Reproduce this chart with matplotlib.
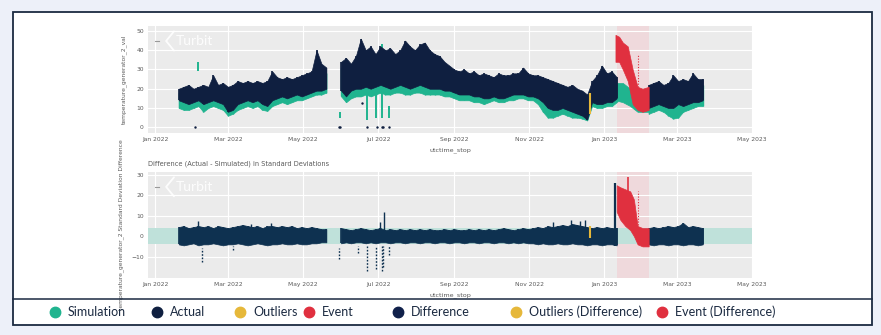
import matplotlib
matplotlib.use("Agg")
import matplotlib.pyplot as plt
import matplotlib.dates as mdates
import numpy as np
import pandas as pd
from matplotlib.lines import Line2D
from matplotlib.patches import Rectangle

# ---------------- data ----------------
# sampling: regular 4-day steps inside each uninterrupted stretch of data
seg_starts = ["2022-01-20", "2022-06-01", "2023-02-06"]
seg_lengths = [31, 57, 12]
step_days = 4

act_high_1 = [20, 21, 22, 20, 21, 22, 21, 27, 22, 23, 21, 22, 24, 23, 24, 23, 24, 23, 24, 29,
              26, 25, 26, 25, 26, 27, 28, 29, 40, 33, 31]
act_low_1 = [14, 13, 12, 13, 14, 12, 13, 14, 13, 12, 8, 9, 12, 13, 14, 13, 14, 12, 11, 14,
             15, 16, 15, 16, 17, 16, 17, 18, 19, 19, 20]
sim_high_1 = [18, 19, 20, 18, 19, 20, 19, 24, 20, 21, 19, 20, 22, 21, 22, 21, 22, 21, 22, 26,
              24, 23, 24, 23, 24, 25, 26, 27, 35, 30, 28]
sim_low_1 = [10, 9, 9, 10, 11, 8, 10, 11, 10, 9, 6, 7, 9, 10, 11, 10, 11, 9, 8.5, 11,
             12, 13, 12, 13, 14, 14, 15, 16, 17, 17, 18]

act_high_2 = [34, 36, 33, 37, 46, 40, 42, 38, 42, 40, 41, 38, 40, 45, 42, 40, 43, 44, 40, 38,
              37, 34, 32, 30, 29, 30, 28, 29, 27, 28, 27, 26, 28, 27, 27, 28, 28, 31, 28, 27,
              27, 26, 25, 24, 23, 22, 21, 22, 20, 19, 17, 24, 27, 32, 28, 29, 26]
act_low_2 = [19, 16, 19, 20, 20, 21, 20, 21, 22, 21, 20, 21, 22, 21, 20, 21, 22, 21, 20, 20,
             20, 19, 19, 18, 17, 17, 17, 16, 16, 15, 15, 16, 15, 15, 16, 17, 17, 17, 16, 16,
             15, 13, 10, 9, 9, 10, 9, 8, 7, 6, 4, 13, 12, 12, 13, 13, 15]
sim_high_2 = [31, 33, 30, 34, 40, 37, 38, 35, 38, 37, 38, 35, 37, 40, 38, 37, 39, 40, 37, 35,
              34, 31, 29, 27, 26, 27, 25, 26, 24, 25, 24, 23, 25, 24, 24, 25, 25, 27, 25, 24,
              24, 23, 22, 21, 20, 19, 18, 19, 17, 16, 14, 21, 24, 28, 25, 26, 23]
sim_low_2 = [16, 13, 15, 16, 16, 17, 16, 17, 18, 17, 17, 18, 18, 17, 17, 18, 18, 17, 17, 17,
             17, 16, 16, 15, 14, 14, 14, 13, 13, 12, 13, 14, 13, 13, 14, 14, 15, 15, 14, 14,
             12, 8, 5, 5, 6, 7, 6, 5, 5, 4.5, 3.5, 11, 10, 10, 11, 11, 13]

act_high_3 = [22, 23, 24, 22, 23, 27, 24, 25, 24, 28, 25, 25]
act_low_3 = [10, 11, 12, 11, 10, 10, 12, 11, 12, 13, 13, 14]
sim_high_3 = [19, 20, 21, 19, 20, 23, 21, 22, 21, 24, 22, 22]
sim_low_3 = [7, 8, 9, 8, 6, 4.5, 5, 8, 9, 10, 11, 11]

diff_high_1 = [4.5, 5, 4, 4.5, 5, 4.5, 5, 4, 5, 4.5, 4, 4.5, 5, 5.5, 5, 4.5, 5, 4, 5, 5,
               4.5, 5, 4.5, 5, 4, 4.5, 4, 4.5, 4, 3.5, 3.5]
diff_low_1 = [-4, -4.5, -4, -3.5, -4.5, -4, -4, -3.5, -4, -4.5, -4, -4, -3.5, -4, -4.5, -4,
              -3.5, -4, -4.5, -4, -4, -3.5, -4, -4, -3.5, -4, -4, -3.5, -3.5, -3, -3]
diff_high_2 = [4, 3.5, 3, 3.5, 4, 3.5, 3, 3.5, 4, 3, 3.5, 3, 3.5, 3, 3.5, 3, 3.5, 3, 3.5, 3,
               3, 3.5, 3, 3.5, 3, 3, 3.5, 3, 3.5, 3, 3.5, 3, 3.5, 4, 3.5, 3, 3.5, 4, 3.5, 4,
               4.5, 4, 5, 4.5, 5, 5.5, 5, 6, 5.5, 5, 4.5, 4, 4.5, 4, 4.5, 4, 4]
diff_low_2 = [-3.5, -3, -3.5, -3, -3, -3.5, -3, -3.5, -3, -3, -3.5, -3, -3, -3.5, -3, -3,
              -3.5, -3, -3, -3.5, -3, -3, -3.5, -3, -3, -3.5, -3, -3, -3.5, -3, -3, -3.5,
              -3, -3, -3.5, -3, -3.5, -3, -3.5, -3.5, -4, -3.5, -4, -4, -3.5, -4, -4, -3.5,
              -4, -4, -4.5, -4, -4, -4.5, -4, -4, -4.5]
diff_high_3 = [4, 4.5, 4, 4.5, 5, 4.5, 5, 6.5, 4.5, 5, 4.5, 4]
diff_low_3 = [-4, -4.5, -4, -4, -4.5, -4, -4, -4.5, -4, -4, -4.5, -4]

# event (actual, flagged) in the top panel
event_dates = ["2023-01-10", "2023-01-13", "2023-01-16", "2023-01-20", "2023-01-24",
               "2023-01-28", "2023-02-01", "2023-02-06"]
event_low = [34, 34, 30, 24, 12, 9, 8, 9]
event_high = [48, 47, 44, 42, 30, 21, 20, 21]
event_sim_dates = ["2023-01-10", "2023-01-16", "2023-01-22", "2023-01-28", "2023-02-06"]
event_sim_low = [14, 13, 11, 8, 8]
event_sim_high = [23, 23, 20, 18, 18]
event_start = "2023-01-11"
event_end = "2023-02-06"

# isolated actual points
act_pt_dates = ["2022-02-02", "2022-05-30", "2022-05-31", "2022-06-22", "2022-06-30",
                "2022-07-04", "2022-07-05", "2022-07-10", "2022-06-18"]
act_pt_vals = [0, 0, 0, 0, 0, 0, 0, 0, 12.5]

# isolated simulation streaks
sim_streak_dates = ["2022-02-05", "2022-05-31", "2022-06-22", "2022-06-29", "2022-07-04", "2022-07-10"]
sim_streak_low = [29, 5, 4, 5, 5, 5]
sim_streak_high = [34, 8, 21, 21, 43, 11]

outlier_date = "2022-12-20"
outlier_low, outlier_high = 7, 18

diff_spike_dates = ["2022-02-05", "2022-03-20", "2022-04-05", "2022-07-03", "2022-07-06",
                    "2022-11-20", "2022-12-05", "2022-12-12", "2022-12-16"]
diff_spike_vals = [7.4, 6, 6.5, 7, 12, 7, 8, 7.5, 8]

diff_neg_dates = ["2022-02-08", "2022-03-05", "2022-05-30", "2022-06-15", "2022-06-22",
                  "2022-06-29", "2022-07-04", "2022-07-05", "2022-07-10"]
diff_neg_low = [-12.5, -7, -11, -8, -17, -16, -17, -15, -9]
diff_neg_high = [-6, -5, -6, -5, -5, -5, -5, -5, -5]

diff_event_dates = ["2023-01-11", "2023-01-14", "2023-01-18", "2023-01-22", "2023-01-25",
                    "2023-01-28", "2023-02-01", "2023-02-06"]
diff_event_low = [12, 8, 5, 3, 0, -4, -5, -5]
diff_event_high = [25, 24, 23, 22, 18, 5, 4, 4]
diff_event_spike_date = "2023-01-20"
diff_event_spike_val = 29
diff_event_pre = ("2023-01-10", -5, 26)
diff_outlier = ("2022-12-20", -1, 5)
band_low, band_high = -4, 4

x_ticks = ["2022-01-01", "2022-03-01", "2022-05-01", "2022-07-01", "2022-09-01",
           "2022-11-01", "2023-01-01", "2023-03-01", "2023-05-01"]

legend_labels = ["Simulation", "Actual", "Outliers", "Event", "Difference",
                 "Outliers (Difference)", "Event (Difference)"]

# ---------------- styling ----------------
C_SIM = "#20b48f"
C_ACT = "#0f1f40"
C_OUT = "#e6b83a"
C_EVT = "#e0303f"
C_DIF = "#0e3150"
C_PLOT = "#ebebeb"
C_TXT = "#5a5a5a"


def d(lst):
    return mdates.date2num(pd.to_datetime(lst))


seg_x = [mdates.date2num(pd.date_range(s, periods=n, freq=f"{step_days}D"))
         for s, n in zip(seg_starts, seg_lengths)]
act_high = [act_high_1, act_high_2, act_high_3]
act_low = [act_low_1, act_low_2, act_low_3]
sim_high = [sim_high_1, sim_high_2, sim_high_3]
sim_low = [sim_low_1, sim_low_2, sim_low_3]
diff_high = [diff_high_1, diff_high_2, diff_high_3]
diff_low = [diff_low_1, diff_low_2, diff_low_3]

W, H = 881, 335
fig = plt.figure(figsize=(W / 100, H / 100), dpi=100, facecolor="#edf0f9")
fig.add_artist(Rectangle((12.5 / W, 1 - 325 / H), (872 - 12.5) / W, (325 - 11.5) / H,
                         transform=fig.transFigure, facecolor="white",
                         edgecolor="#1b2a41", lw=1.3, zorder=0))
fig.add_artist(Line2D([13 / W, 872 / W], [1 - 299 / H] * 2, transform=fig.transFigure,
                      color="#1b2a41", lw=1.1))

ax1 = fig.add_axes([148 / W, 1 - 133 / H, 604 / W, 107 / H])
ax2 = fig.add_axes([148 / W, 1 - 278 / H, 604 / W, 106 / H])

xmin, xmax = d(["2021-12-26"])[0], d(["2023-05-01"])[0]
for ax in (ax1, ax2):
    ax.set_facecolor(C_PLOT)
    for s in ax.spines.values():
        s.set_visible(False)
    ax.set_xlim(xmin, xmax)
    ax.set_xticks(d(x_ticks))
    ax.xaxis.set_major_formatter(mdates.DateFormatter("%b %Y"))
    ax.tick_params(length=0, labelsize=4.3, labelcolor=C_TXT, pad=3)
    ax.grid(True, color="white", lw=0.8)
    ax.set_axisbelow(True)
    ax.axvspan(d([event_start])[0], d([event_end])[0], color="#f3c9cf", alpha=0.5, lw=0, zorder=0.5)
    ax.set_xlabel("utctime_stop", fontsize=4.6, color=C_TXT, labelpad=4)
    # logo
    ax.plot([0.043, 0.030, 0.043], [0.95, 0.86, 0.77], transform=ax.transAxes,
            color="white", lw=1.3, alpha=0.9, solid_capstyle="round")
    ax.plot([0.012, 0.018], [0.86, 0.86], transform=ax.transAxes, color="#999999", lw=0.8)
    ax.text(0.046, 0.86, "Turbit", transform=ax.transAxes, color="white", alpha=0.9,
            fontsize=10, family="Lato", va="center", ha="left")

# ---- top panel ----
ax1.set_ylim(-3, 52.6)
ax1.set_yticks([0, 10, 20, 30, 40, 50])
for xs, lo, hi in zip(seg_x, sim_low, sim_high):
    ax1.fill_between(xs, lo, hi, color=C_SIM, lw=0.5, edgecolor=C_SIM, zorder=2)
    ax1.vlines(xs, lo, hi, color=C_SIM, lw=1.0, zorder=2)
ax1.fill_between(d(event_sim_dates), event_sim_low, event_sim_high, color=C_SIM, lw=0.5,
                 edgecolor=C_SIM, zorder=2)
for xs, lo, hi in zip(seg_x, act_low, act_high):
    ax1.fill_between(xs, lo, hi, color=C_ACT, lw=0.5, edgecolor=C_ACT, zorder=3)
    ax1.vlines(xs, lo, hi, color=C_ACT, lw=1.2, zorder=3)
ax1.fill_between(d(event_dates), event_low, event_high, color=C_EVT, lw=0.5, edgecolor=C_EVT, zorder=3)
ax1.vlines(d(sim_streak_dates), sim_streak_low, sim_streak_high, color=C_SIM, lw=1.4, zorder=2.5)
ax1.scatter(d(act_pt_dates), act_pt_vals, s=3, color=C_ACT, zorder=4, lw=0)
ax1.vlines(d([outlier_date]), outlier_low, outlier_high, color=C_OUT, lw=1.5, zorder=4)
ax1.vlines(d(["2023-01-28"]), 21, 38, color=C_EVT, lw=0.8, linestyles=(0, (1, 1.5)), zorder=4)
ax1.set_ylabel("temperature_generator_2_val", fontsize=4.3, color=C_TXT, labelpad=7)

# ---- bottom panel ----
ax2.set_ylim(-20.5, 31.5)
ax2.set_yticks([-10, 0, 10, 20, 30])
ax2.axhspan(band_low, band_high, color="#bfe1da", lw=0, zorder=1)
for xs, lo, hi in zip(seg_x, diff_low, diff_high):
    ax2.fill_between(xs, lo, hi, color=C_DIF, lw=0.5, edgecolor=C_DIF, zorder=3)
    ax2.vlines(xs, lo, hi, color=C_DIF, lw=1.2, zorder=3)
ax2.vlines(d(diff_spike_dates), 2, diff_spike_vals, color=C_DIF, lw=1.0, zorder=3)
ax2.vlines(d(diff_neg_dates), diff_neg_low, diff_neg_high, color=C_DIF, lw=1.0,
           linestyles=(0, (1.2, 1.2)), zorder=3)
ax2.fill_between(d(diff_event_dates), diff_event_low, diff_event_high, color=C_EVT, lw=0.5,
                 edgecolor=C_EVT, zorder=3)
ax2.vlines(d([diff_event_spike_date]), 15, diff_event_spike_val, color=C_EVT, lw=1.2, zorder=3)
ax2.vlines(d([diff_event_pre[0]]), diff_event_pre[1], diff_event_pre[2], color=C_DIF, lw=1.6, zorder=3)
ax2.vlines(d(["2023-01-28"]), 0, 22, color=C_EVT, lw=0.8, linestyles=(0, (1, 1.5)), zorder=4)
ax2.vlines(d([diff_outlier[0]]), diff_outlier[1], diff_outlier[2], color=C_OUT, lw=1.5, zorder=4)
ax2.set_ylabel("temperature_generator_2 Standard Deviation Difference", fontsize=4.3,
               color=C_TXT, labelpad=5)
ax2.set_title("Difference (Actual - Simulated) in Standard Deviations", fontsize=4.8,
              color=C_TXT, loc="left", pad=5)

# ---- legend ----
leg_colors = [C_SIM, C_ACT, C_OUT, C_EVT, "#10204a", C_OUT, C_EVT]
marker_x = [55, 157, 240, 309, 398, 516, 662]
ly = 1 - 312 / H
for lab, col, mx in zip(legend_labels, leg_colors, marker_x):
    fig.add_artist(Line2D([mx / W], [ly], marker="o", ms=7.5, color=col, lw=0,
                          transform=fig.transFigure))
    fig.text((mx + 13) / W, ly, lab, fontsize=9, family="Lato", fontweight="normal",
             color="#1b2a41", va="center", ha="left")

fig.savefig("out.png", dpi=100, facecolor=fig.get_facecolor())
